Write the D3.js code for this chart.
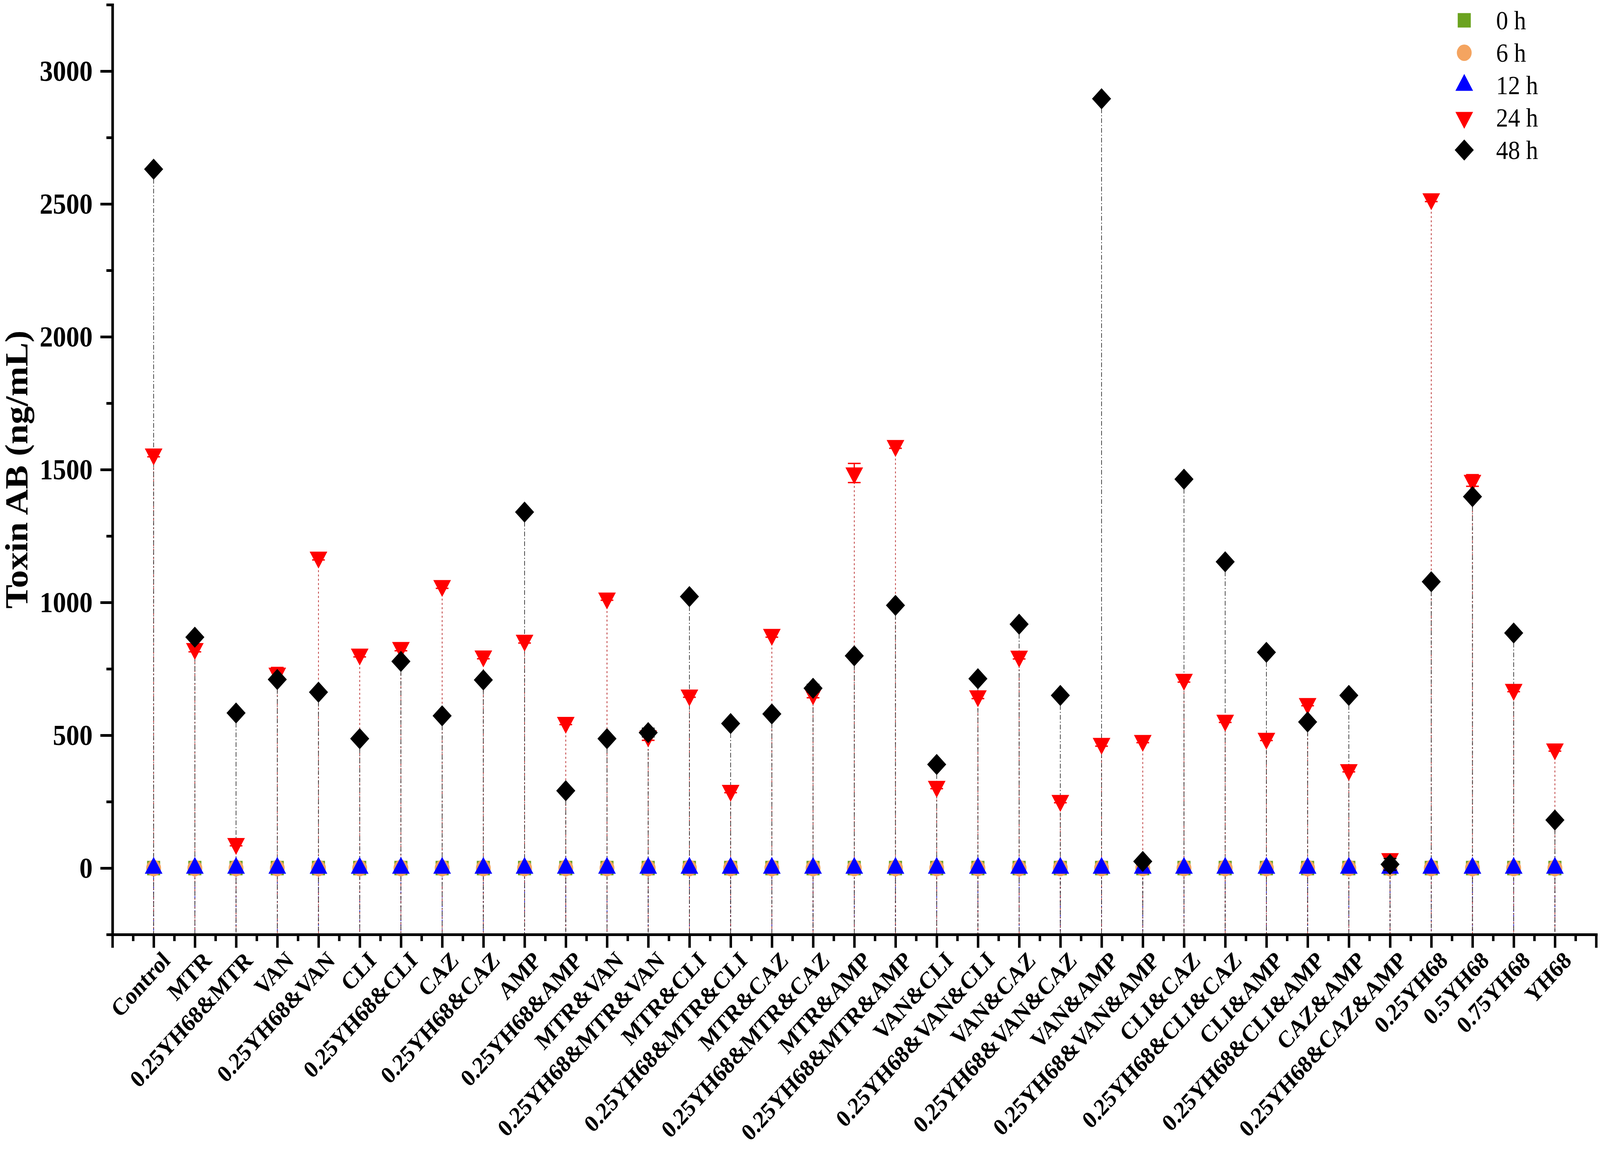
<!DOCTYPE html>
<html>
<head>
<meta charset="utf-8">
<script src="https://cdn.jsdelivr.net/npm/d3@7"></script>
<style>
html, body { margin: 0; padding: 0; background: #fff; overflow: hidden; }
svg { display: block; }
text { font-family: "Liberation Serif", "Times New Roman", serif; }
</style>
</head>
<body>
<div id="chartContainer"></div>
<script>
// Groups on the x axis
const categories = [
    'Control', 'MTR', '0.25YH68&MTR', 'VAN', '0.25YH68&VAN', 'CLI', '0.25YH68&CLI',
    'CAZ', '0.25YH68&CAZ', 'AMP', '0.25YH68&AMP', 'MTR&VAN', '0.25YH68&MTR&VAN',
    'MTR&CLI', '0.25YH68&MTR&CLI', 'MTR&CAZ', '0.25YH68&MTR&CAZ', 'MTR&AMP',
    '0.25YH68&MTR&AMP', 'VAN&CLI', '0.25YH68&VAN&CLI', 'VAN&CAZ', '0.25YH68&VAN&CAZ',
    'VAN&AMP', '0.25YH68&VAN&AMP', 'CLI&CAZ', '0.25YH68&CLI&CAZ', 'CLI&AMP',
    '0.25YH68&CLI&AMP', 'CAZ&AMP', '0.25YH68&CAZ&AMP', '0.25YH68', '0.5YH68',
    '0.75YH68', 'YH68'
];

// Toxin AB (ng/mL) per time point
const h0 = [0, 0, 0, 0, 0, 0, 0, 0, 0, 0, 0, 0, 0, 0, 0, 0, 0, 0, 0, 0, 0, 0, 0, 0, 0, 0, 0, 0, 0, 0, 0, 0, 0, 0, 0];
const h6 = [0, 0, 0, 0, 0, 0, 0, 0, 0, 0, 0, 0, 0, 0, 0, 0, 0, 0, 0, 0, 0, 0, 0, 0, 0, 0, 0, 0, 0, 0, 0, 0, 0, 0, 0];
const h12 = [0, 0, 0, 0, 0, 0, 0, 0, 0, 0, 0, 0, 0, 0, 0, 0, 0, 0, 0, 0, 0, 0, 0, 0, 0, 0, 0, 0, 0, 0, 0, 0, 0, 0, 0];
const h24 = [1558, 826, 92, 733, 1170, 805, 830, 1063, 798, 857, 548, 1016, 497, 651, 292, 879, 655, 1487,
    1590, 307, 648, 797, 254, 469, 480, 710, 556, 488, 619, 370, 35, 2519, 1459, 672, 448];
const h48 = [2631, 869, 584, 710, 662, 487, 778, 573, 708, 1340, 291, 487, 510, 1022, 544, 580, 677, 799,
    989, 390, 713, 918, 650, 2896, 25, 1464, 1153, 812, 550, 650, 14, 1078, 1398, 885, 181];

// standard deviations (only a few stick out past the markers)
const err24 = [10, 12, 8, 22, 10, 10, 12, 10, 10, 10, 8, 8, 16, 8, 8, 10, 14, 36,
    10, 8, 10, 10, 8, 10, 8, 10, 8, 8, 8, 8, 10, 10, 22, 8, 8];
const err48 = [8, 8, 8, 8, 8, 8, 8, 8, 8, 8, 8, 8, 16, 8, 8, 8, 14, 8,
    8, 8, 8, 8, 8, 8, 8, 8, 8, 8, 8, 8, 22, 8, 8, 8, 8];

const yTicks = [0, 500, 1000, 1500, 2000, 2500, 3000];
const yMinorTicks = [-250, 250, 750, 1250, 1750, 2250, 2750, 3250];

const series = [
    { name: '0 h', values: h0, err: null, color: '#6ba31f', shape: 'square', size: 1369, dash: '4,8' },
    { name: '6 h', values: h6, err: null, color: '#f4a460', shape: 'circle', size: 1385, dash: '4,8' },
    { name: '12 h', values: h12, err: null, color: '#0000ff', shape: 'up', size: 1083, dash: '4,8' },
    { name: '24 h', values: h24, err: err24, color: '#ff0000', line: '#b01010', shape: 'down', size: 1083, dash: '5,6' },
    { name: '48 h', values: h48, err: err48, color: '#000000', line: '#222', shape: 'diamond', size: 1458, dash: '12,5,3,5' }
];

const width = 4526;
const height = 2959;
const font = '"Liberation Serif", "Times New Roman", serif';

// the svg fills the window, drawing coordinates stay 4526 x 2959
const svg = d3.select('#chartContainer')
    .append('svg')
    .attr('viewBox', `0 0 ${width} ${height}`)
    .attr('preserveAspectRatio', 'none')
    .style('width', '100vw')
    .style('height', '100vh');

svg.append('rect').attr('width', width).attr('height', height).attr('fill', '#fff');

const x = d3.scaleLinear().domain([0, categories.length + 1]).range([318, 4515]);
const y = d3.scaleLinear().domain([-250, 3250]).range([2392, 12]);
const xPos = i => x(i + 1);

function markerPath(s) {
    if (s.shape === 'circle') return d3.symbol(d3.symbolCircle, s.size)();
    if (s.shape === 'up' || s.shape === 'down') return d3.symbol(d3.symbolTriangle, s.size)();
    return d3.symbol(d3.symbolSquare, s.size)();
}
function markerRotate(s) {
    if (s.shape === 'diamond') return 45;
    if (s.shape === 'down') return 180;
    return 0;
}

// drop lines down to the bottom axis
const dropG = svg.append('g');
series.forEach(s => {
    dropG.append('g')
        .selectAll('line')
        .data(s.values)
        .enter().append('line')
        .attr('x1', (d, i) => xPos(i))
        .attr('x2', (d, i) => xPos(i))
        .attr('y1', d => y(d))
        .attr('y2', y(-250))
        .attr('stroke', s.line || s.color)
        .attr('stroke-width', 1.8)
        .attr('stroke-dasharray', s.dash);
});

// error bars + markers, one series over the other
series.forEach(s => {
    const g = svg.append('g');
    if (s.err) {
        const eb = g.selectAll('.err')
            .data(s.values)
            .enter().append('g')
            .attr('class', 'err')
            .attr('stroke', s.color)
            .attr('stroke-width', 3.5);
        eb.append('line')
            .attr('x1', (d, i) => xPos(i)).attr('x2', (d, i) => xPos(i))
            .attr('y1', (d, i) => y(d + s.err[i])).attr('y2', (d, i) => y(d - s.err[i]));
        eb.append('line')
            .attr('x1', (d, i) => xPos(i) - 18).attr('x2', (d, i) => xPos(i) + 18)
            .attr('y1', (d, i) => y(d + s.err[i])).attr('y2', (d, i) => y(d + s.err[i]));
        eb.append('line')
            .attr('x1', (d, i) => xPos(i) - 18).attr('x2', (d, i) => xPos(i) + 18)
            .attr('y1', (d, i) => y(d - s.err[i])).attr('y2', (d, i) => y(d - s.err[i]));
    }
    g.selectAll('.pt')
        .data(s.values)
        .enter().append('path')
        .attr('class', 'pt')
        .attr('d', markerPath(s))
        .attr('transform', (d, i) => `translate(${xPos(i)},${y(d)}) rotate(${markerRotate(s)})`)
        .attr('fill', s.color);
});

// X axis: major ticks on every group, minor ticks half way
const xAxisG = svg.append('g').attr('transform', `translate(0,${y(-250)})`);
xAxisG.append('g')
    .call(d3.axisBottom(x).tickValues(d3.range(0, categories.length + 2)).tickSize(34).tickSizeOuter(0).tickFormat(''));
xAxisG.append('g')
    .call(d3.axisBottom(x).tickValues(d3.range(0.5, categories.length + 1, 1)).tickSize(17).tickSizeOuter(0).tickFormat(''));

// Y axis
const yAxisG = svg.append('g').attr('transform', `translate(${x(0)},0)`);
yAxisG.append('g')
    .call(d3.axisLeft(y).tickValues(yTicks).tickSize(34).tickSizeOuter(0).tickPadding(22).tickFormat(d3.format('d')));
yAxisG.append('g')
    .call(d3.axisLeft(y).tickValues(yMinorTicks).tickSize(17).tickSizeOuter(0).tickFormat(''));

svg.selectAll('.domain').attr('stroke', '#000').attr('stroke-width', 7).attr('stroke-linecap', 'square');
svg.selectAll('.tick line').attr('stroke', '#000').attr('stroke-width', 7);
yAxisG.selectAll('.tick text')
    .attr('font-family', font)
    .attr('font-weight', 'bold')
    .attr('font-size', 75)
    .attr('fill', '#000');

// rotated group labels, right end of the baseline under the tick
svg.append('g')
    .selectAll('text')
    .data(categories)
    .enter().append('text')
    .attr('transform', (d, i) => `translate(${xPos(i) + 50},${y(-250) + 70}) rotate(-45)`)
    .attr('text-anchor', 'end')
    .attr('font-family', font)
    .attr('font-weight', 'bold')
    .attr('font-size', 62)
    .text(d => d);

// Y title
svg.append('text')
    .attr('transform', `translate(77,${(y(-250) + y(3250)) / 2}) rotate(-90)`)
    .attr('text-anchor', 'middle')
    .attr('font-family', font)
    .attr('font-weight', 'bold')
    .attr('font-size', 92)
    .text('Toxin AB (ng/mL)');

// Legend
const legend = svg.append('g').attr('transform', 'translate(4142,52)');
const rows = legend.selectAll('.row')
    .data(series)
    .enter().append('g')
    .attr('class', 'row')
    .attr('transform', (d, i) => `translate(0,${i * 83})`);
rows.append('path')
    .attr('d', d => markerPath(d))
    .attr('transform', d => `rotate(${markerRotate(d)})`)
    .attr('fill', d => d.color);
rows.append('text')
    .attr('x', 90)
    .attr('dy', '0.34em')
    .attr('font-family', font)
    .attr('font-size', 68)
    .text(d => d.name);
</script>
</body>
</html>
